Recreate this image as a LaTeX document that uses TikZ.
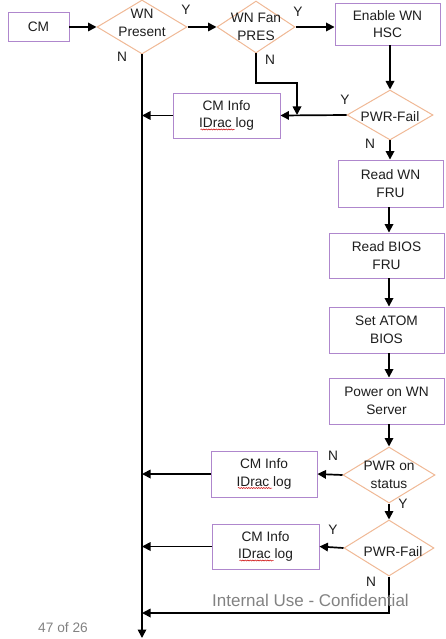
\documentclass[tikz,border=0pt]{standalone}
\usepackage{fontspec}
\setmainfont{Liberation Sans}
\usetikzlibrary{shapes.geometric,arrows.meta,calc,decorations.pathmorphing}
\definecolor{boxcol}{RGB}{175,135,205}
\definecolor{diacol}{RGB}{240,185,150}
\definecolor{txtcol}{RGB}{30,30,30}
\definecolor{graytxt}{RGB}{130,130,130}
\begin{document}
\begin{tikzpicture}[x=1pt,y=-1pt,
  every node/.style={font=\fontsize{13.7}{17.5}\selectfont, text=txtcol},
  box/.style={draw=boxcol, line width=0.9pt, fill=white, align=center, inner sep=0pt},
  dia/.style={diamond, draw=diacol, line width=1pt, fill=white, inner sep=0pt},
  dlab/.style={align=center, text=txtcol},
  arr/.style={line width=1.7pt, -{Triangle[length=8.5pt,width=8.5pt]}},
  yn/.style={font=\fontsize{13.7}{16}\selectfont, text=txtcol},
  squig/.style={red!80!black, line width=0.5pt, decorate, decoration={snake, amplitude=0.6pt, segment length=2.5pt}}
]
\useasboundingbox (0,0) rectangle (445,639);

% boxes
\node[box, minimum width=61pt, minimum height=29pt] (cm) at (38.5,27) {CM};
\node[box, minimum width=105pt, minimum height=42pt] (hsc) at (387.5,24) {Enable WN\\HSC};
\node[box, minimum width=107pt, minimum height=45pt] (info1) at (226.5,115.5) {CM Info\\IDrac log};
\node[box, minimum width=105pt, minimum height=47pt] (rwfru) at (390.5,183.5) {Read WN\\FRU};
\node[box, minimum width=115pt, minimum height=45pt] (rbfru) at (386.5,255.5) {Read BIOS\\FRU};
\node[box, minimum width=115pt, minimum height=46pt] (atom) at (386.5,330) {Set ATOM\\BIOS};
\node[box, minimum width=115pt, minimum height=46pt] (pwron) at (386.5,401) {Power on WN\\Server};
\node[box, minimum width=106pt, minimum height=46pt] (info2) at (264,474) {CM Info\\IDrac log};
\node[box, minimum width=107pt, minimum height=45pt] (info3) at (265.5,546.5) {CM Info\\IDrac log};

% diamonds
\node[dia, minimum width=90pt, minimum height=54pt,
  label={[dlab, name=wnpl, yshift=4pt]center:WN\\Present}] (wnp) at (142,27) {};
\node[dia, minimum width=78pt, minimum height=52pt,
  label={[dlab, name=fanl, yshift=0pt]center:WN Fan\\PRES}] (fan) at (256,27) {};
\node[dia, minimum width=86pt, minimum height=50pt,
  label={[dlab, name=pf1l, yshift=-2pt]center:PWR-Fail}] (pf1) at (390,115) {};
\node[dia, minimum width=92pt, minimum height=56pt,
  label={[dlab, name=posl]center:PWR on\\status}] (pos) at (389,475) {};
\node[dia, minimum width=90pt, minimum height=56pt,
  label={[dlab, name=pf2l, xshift=4pt, yshift=-4pt]center:PWR-Fail}] (pf2) at (389,548) {};

% main line
\coordinate (mbot) at (143,638);
\draw[arr] (wnp.south) -- (wnp.south |- mbot);

% connectors
\draw[arr] (cm.east) -- (wnp.west);
\draw[arr] (wnp.east) -- (fan.west);
\draw[arr] (fan.east) -- (fan.east -| hsc.west);
\coordinate (j1) at (297,115);
\draw[arr] (fan.south) |- ($(j1)+(0,-32)$) -- (j1);
\draw[arr] (hsc.south -| pf1.north) -- (pf1.north);
\draw[arr] (pf1.west) -- (info1.east);
\draw[arr] (info1.west) -- (info1.west -| wnp.south);
\draw[arr] (pf1.south) -- (pf1.south |- rwfru.north);
\draw[arr] (rwfru.south -| pos.north) -- (rbfru.north -| pos.north);
\draw[arr] (rbfru.south -| pos.north) -- (atom.north -| pos.north);
\draw[arr] (atom.south -| pos.north) -- (pwron.north -| pos.north);
\draw[arr] (pwron.south -| pos.north) -- (pos.north);
\draw[arr] (pos.west) -- (info2.east);
\draw[arr] (info2.west) -- (info2.west -| wnp.south);
\draw[arr] (pos.south) -- (pf2.north);
\draw[arr] (pf2.west) -- (info3.east);
\draw[arr] (info3.west) -- (info3.west -| wnp.south);
\coordinate (j2) at (389,613);
\draw[arr] (pf2.south) -- (j2) -- (j2 -| wnp.south);

% Y / N labels
\node[yn] (y1) at (186,10) {Y};
\node[yn] (n1) at (122,57) {N};
\node[yn] (y2) at (298,12) {Y};
\node[yn] (n2) at (270,60) {N};
\node[yn] (y3) at (345,100) {Y};
\node[yn] (n3) at (370,144) {N};
\node[yn] (n4) at (333,456) {N};
\node[yn] (y4) at (403,504) {Y};
\node[yn] (y5) at (333,530) {Y};
\node[yn] (n5) at (371,582) {N};

% spell-check squiggles
\draw[squig] ($(info1.center)+(-26,14)$) -- ++(34,0);
\draw[squig] ($(info2.center)+(-26,14)$) -- ++(34,0);
\draw[squig] ($(info3.center)+(-26,14)$) -- ++(34,0);

% footer texts
\node[font=\fontsize{17}{20}\selectfont, text=graytxt] (conf) at (310.5,600) {Internal Use - Confidential};
\node[font=\fontsize{13.7}{16}\selectfont, text=graytxt] (page) at (63,628) {47 of 26};
\end{tikzpicture}
\end{document}
